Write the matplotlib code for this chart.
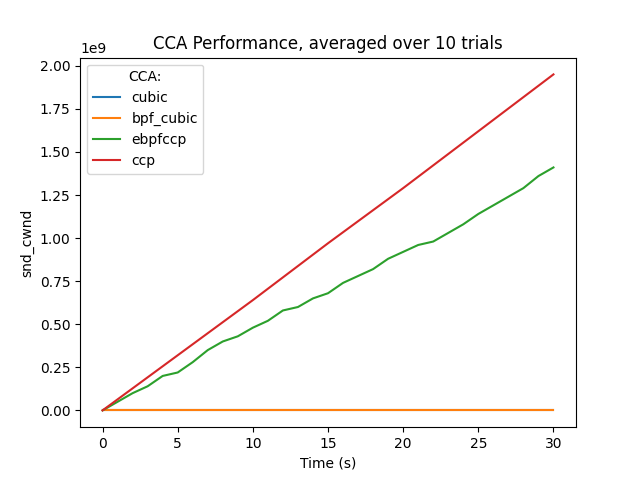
import matplotlib
matplotlib.use("Agg")
import matplotlib.pyplot as plt

# values (snd_cwnd in units of 1e9)
time_s = list(range(31))
cubic = [0.0] * 31
bpf_cubic = [0.0] * 31
ebpfccp = [0.0, 0.05, 0.10, 0.14, 0.20, 0.22, 0.28, 0.35, 0.40, 0.43, 0.48,
           0.52, 0.58, 0.60, 0.65, 0.68, 0.74, 0.78, 0.82, 0.88, 0.92,
           0.96, 0.98, 1.03, 1.08, 1.14, 1.19, 1.24, 1.29, 1.36, 1.41]
ccp_t = [0, 5, 10, 15, 20, 25, 30]
ccp = [0.0, 0.32, 0.64, 0.97, 1.29, 1.62, 1.95]

fig, ax = plt.subplots(figsize=(6.4, 4.8), dpi=100)
ax.plot(time_s, [v * 1e9 for v in cubic], label="cubic")
ax.plot(time_s, [v * 1e9 for v in bpf_cubic], label="bpf_cubic")
ax.plot(time_s, [v * 1e9 for v in ebpfccp], label="ebpfccp")
ax.plot(ccp_t, [v * 1e9 for v in ccp], label="ccp")
ax.set_xlabel("Time (s)")
ax.set_ylabel("snd_cwnd")
ax.set_title("CCA Performance, averaged over 10 trials")
ax.legend(title="CCA:", loc="upper left")
fig.savefig("out.png")
